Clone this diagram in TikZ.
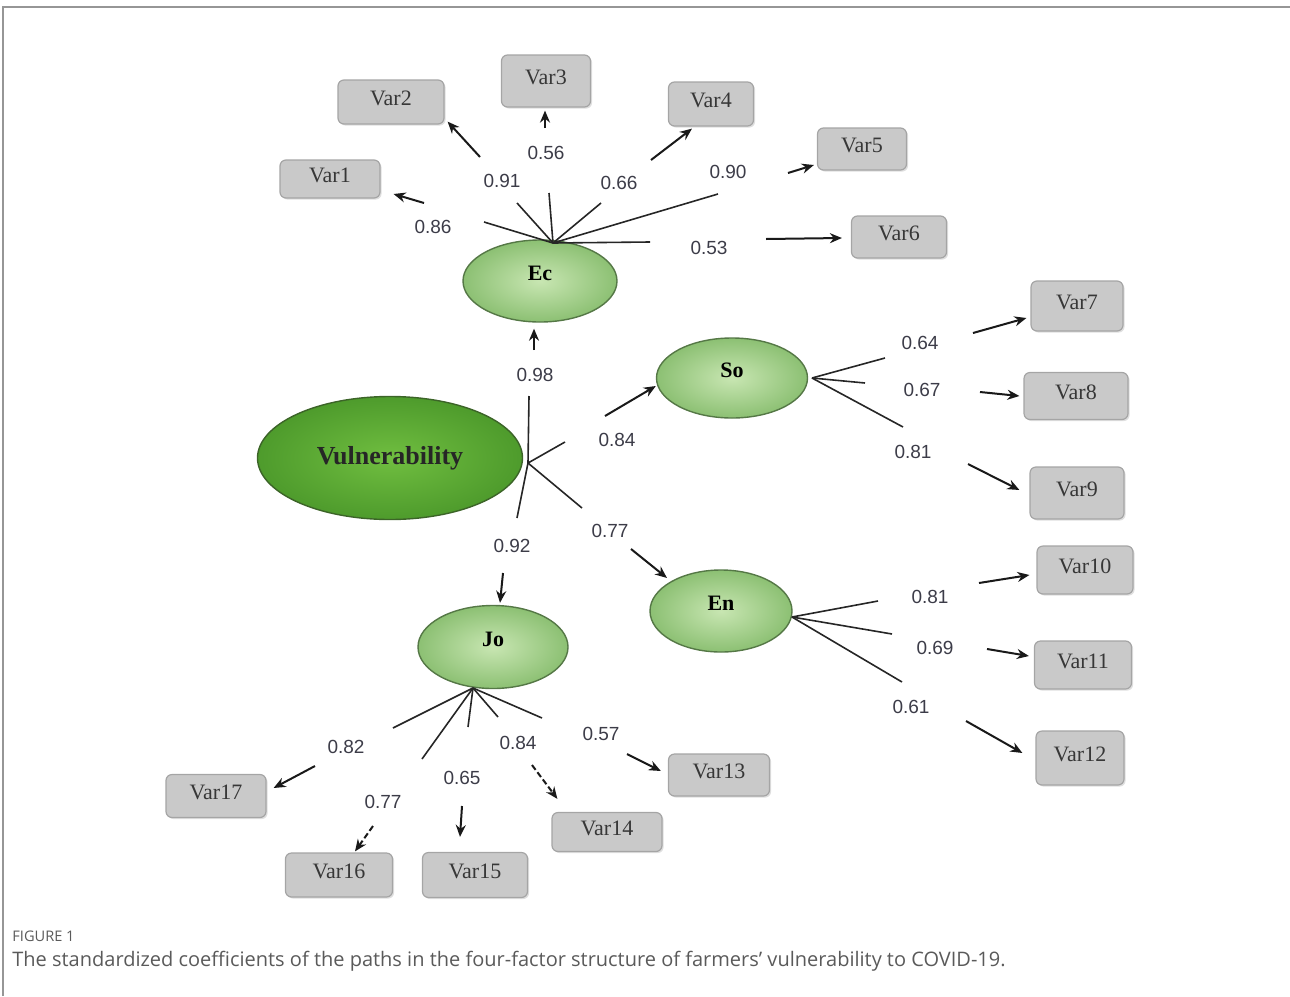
\documentclass[tikz,border=0pt]{standalone}
\usepackage{fontspec}
\setmainfont{Liberation Serif}
\newfontfamily\numfont{Liberation Sans}
\newfontfamily\capfont{Open Sans}
\usetikzlibrary{arrows.meta,shadows,shapes.geometric}
\definecolor{boxfill}{RGB}{201,201,201}
\definecolor{boxdraw}{RGB}{165,165,165}
\definecolor{vartext}{RGB}{55,55,55}
\definecolor{latin}{RGB}{200,230,178}
\definecolor{latout}{RGB}{140,192,115}
\definecolor{latdraw}{RGB}{85,120,70}
\definecolor{vulin}{RGB}{112,190,64}
\definecolor{vulout}{RGB}{78,155,44}
\definecolor{vuldraw}{RGB}{60,100,40}
\definecolor{coeftext}{RGB}{60,60,72}
\definecolor{captext}{RGB}{90,90,90}
\definecolor{framec}{RGB}{150,150,150}
\begin{document}
\begin{tikzpicture}[x=0.5pt,y=-0.5pt,
  varbox/.style={draw=boxdraw, fill=boxfill, rounded corners=3pt, line width=0.6pt,
    font=\fontsize{11}{12}\selectfont, text=vartext, inner sep=0pt, text depth=4pt,
    drop shadow={shadow xshift=0.8pt, shadow yshift=-0.8pt, opacity=0.25}},
  lat/.style={ellipse, draw=latdraw, line width=0.7pt, inner color=latin, outer color=latout,
    font=\bfseries\fontsize{11}{12}\selectfont, inner sep=0pt, text depth=8pt},
  vul/.style={ellipse, draw=vuldraw, line width=0.7pt, inner color=vulin, outer color=vulout,
    font=\bfseries\fontsize{13}{15}\selectfont, text=black!85, inner sep=0pt},
  fan/.style={line width=0.8pt, black!85},
  arr/.style={line width=1pt, black!90, -{Stealth[length=6pt,width=5pt]}},
  darr/.style={arr, dash pattern=on 3pt off 1.5pt},
  coef/.style={font=\numfont\fontsize{9.5}{11}\selectfont, text=coeftext, inner sep=1pt}]
\useasboundingbox (0,0) rectangle (1290,996);
% frame
\draw[framec, line width=0.6pt] (3,996) -- (3,7) -- (1290,7);

% latent variables
\node[vul, minimum width=132.5pt, minimum height=61.5pt] (vul) at (390,458) {Vulnerability};
\node[lat, minimum width=77pt, minimum height=41pt] (ec) at (540,281) {Ec};
\node[lat, minimum width=75.5pt, minimum height=40pt] (so) at (732,378) {So};
\node[lat, minimum width=71pt, minimum height=41pt] (en) at (721,611) {En};
\node[lat, minimum width=75pt, minimum height=41.5pt] (jo) at (493,647) {Jo};

% indicator boxes
\node[varbox, minimum width=50pt, minimum height=19pt] (v1) at (330,179) {Var1};
\node[varbox, minimum width=53pt, minimum height=22pt] (v2) at (391,102) {Var2};
\node[varbox, minimum width=44.5pt, minimum height=26pt] (v3) at (546,81) {Var3};
\node[varbox, minimum width=42.5pt, minimum height=22pt] (v4) at (711,104) {Var4};
\node[varbox, minimum width=44.5pt, minimum height=21pt] (v5) at (862,149) {Var5};
\node[varbox, minimum width=47.5pt, minimum height=21pt] (v6) at (899,237) {Var6};
\node[varbox, minimum width=46pt, minimum height=25pt] (v7) at (1077,306) {Var7};
\node[varbox, minimum width=52pt, minimum height=23.5pt] (v8) at (1076,396) {Var8};
\node[varbox, minimum width=47pt, minimum height=26pt] (v9) at (1077,493) {Var9};
\node[varbox, minimum width=48pt, minimum height=24pt] (v10) at (1085,570) {Var10};
\node[varbox, minimum width=48.5pt, minimum height=24pt] (v11) at (1083,665) {Var11};
\node[varbox, minimum width=44pt, minimum height=27pt] (v12) at (1080,758) {Var12};
\node[varbox, minimum width=50.5pt, minimum height=21pt] (v13) at (719,775) {Var13};
\node[varbox, minimum width=55pt, minimum height=19.5pt] (v14) at (607,832) {Var14};
\node[varbox, minimum width=52.5pt, minimum height=22.5pt] (v15) at (475,875) {Var15};
\node[varbox, minimum width=53.5pt, minimum height=22pt] (v16) at (339,875) {Var16};
\node[varbox, minimum width=50pt, minimum height=21.5pt] (v17) at (216,796) {Var17};

% hubs
\coordinate (echub) at (553,243);
\coordinate (vhub) at (528,463);
\coordinate (sohub) at (812,378);
\coordinate (enhub) at (792,617);
\coordinate (johub) at (473,688);

% ---- Ec paths
\coordinate (a1) at (484,222); \coordinate (b1) at (424,203);
\coordinate (a2) at (517,203); \coordinate (b2) at (480,157);
\coordinate (a3) at (549,193); \coordinate (b3) at (545,128);
\coordinate (a4) at (601,203); \coordinate (b4) at (651,160);
\coordinate (a5) at (718,194); \coordinate (b5) at (788,173);
\coordinate (a6) at (650,242); \coordinate (b6) at (766,239);
\draw[fan] (echub) -- (a1); \draw[fan] (echub) -- (a2); \draw[fan] (echub) -- (a3);
\draw[fan] (echub) -- (a4); \draw[fan] (echub) -- (a5); \draw[fan] (echub) -- (a6);
\node[coef] (l1) at (433,227) {0.86};
\node[coef] (l2) at (502,181) {0.91};
\node[coef] (l3) at (546,153) {0.56};
\node[coef] (l4) at (619,183) {0.66};
\node[coef] (l5) at (728,172) {0.90};
\node[coef] (l6) at (709,248) {0.53};
\draw[arr] (b1) -- ([shift={(13,15)}]v1.east);
\draw[arr] (b2) -- ([shift={(3,-3)}]v2.south east);
\draw[arr] (b3) -- ([shift={(-1,3)}]v3.south);
\draw[arr] (b4) -- ([shift={(-19,2)}]v4.south);
\draw[arr] (b5) -- ([shift={(-3,16)}]v5.west);
\draw[arr] (b6) -- ([shift={(-9,1)}]v6.west);

% ---- Vulnerability paths
\coordinate (ae) at (529,396); \coordinate (be) at (534,350);
\coordinate (as) at (565,442); \coordinate (bs) at (605,416);
\coordinate (an) at (582,508); \coordinate (bn) at (631,549);
\coordinate (aj) at (517,518); \coordinate (bj) at (503,573);
\draw[fan] (vhub) -- (ae); \draw[fan] (vhub) -- (as);
\draw[fan] (vhub) -- (an); \draw[fan] (vhub) -- (aj);
\node[coef] (le) at (535,375) {0.98};
\node[coef] (ls) at (617,440) {0.84};
\node[coef] (ln) at (610,531) {0.77};
\node[coef] (lj) at (512,546) {0.92};
\draw[arr] (be) -- ([shift={(-6,6)}]ec.south);
\draw[arr] (bs) -- ([shift={(0,8)}]so.west);
\draw[arr] (bn) -- ([shift={(-54,-33)}]en.center);
\draw[arr] (bj) -- ([shift={(7,-2)}]jo.north);

% ---- So paths
\coordinate (a7) at (885,358); \coordinate (b7) at (973,333);
\coordinate (a8) at (865,383); \coordinate (b8) at (980,392);
\coordinate (a9) at (903,427); \coordinate (b9) at (968,464);
\draw[fan] (sohub) -- (a7); \draw[fan] (sohub) -- (a8); \draw[fan] (sohub) -- (a9);
\node[coef] (l7) at (920,343) {0.64};
\node[coef] (l8) at (922,390) {0.67};
\node[coef] (l9) at (913,452) {0.81};
\draw[arr] (b7) -- ([shift={(-4,12)}]v7.west);
\draw[arr] (b8) -- ([shift={(-4,0)}]v8.west);
\draw[arr] (b9) -- ([shift={(-10,-3)}]v9.west);

% ---- En paths
\coordinate (a10) at (878,601); \coordinate (b10) at (979,583);
\coordinate (a11) at (892,634); \coordinate (b11) at (987,649);
\coordinate (a12) at (902,682); \coordinate (b12) at (966,721);
\draw[fan] (enhub) -- (a10); \draw[fan] (enhub) -- (a11); \draw[fan] (enhub) -- (a12);
\node[coef] (l10) at (930,597) {0.81};
\node[coef] (l11) at (935,648) {0.69};
\node[coef] (l12) at (911,707) {0.61};
\draw[arr] (b10) -- ([shift={(-7,5)}]v10.west);
\draw[arr] (b11) -- ([shift={(-5,-9)}]v11.west);
\draw[arr] (b12) -- ([shift={(-13,-5)}]v12.west);

% ---- Jo paths
\coordinate (a17) at (393,728); \coordinate (b17) at (315,766);
\coordinate (a16) at (422,759); \coordinate (b16) at (373,826);
\coordinate (a15) at (468,727); \coordinate (b15) at (462,806);
\coordinate (a14) at (498,717); \coordinate (b14) at (532,765);
\coordinate (a13) at (542,718); \coordinate (b13) at (627,754);
\draw[fan] (johub) -- (a17); \draw[fan] (johub) -- (a16); \draw[fan] (johub) -- (a15);
\draw[fan] (johub) -- (a14); \draw[fan] (johub) -- (a13);
\node[coef] (l17) at (346,747) {0.82};
\node[coef] (l16) at (383,802) {0.77};
\node[coef] (l15) at (462,778) {0.65};
\node[coef] (l14) at (518,743) {0.84};
\node[coef] (l13) at (601,734) {0.57};
\draw[arr] (b17) -- ([shift={(7,-8)}]v17.east);
\draw[darr] (b16) -- ([shift={(16,-1)}]v16.north);
\draw[arr] (b15) -- ([shift={(-15,-15)}]v15.north);
\draw[darr] (b14) -- ([shift={(6,-13)}]v14.north west);
\draw[arr] (b13) -- ([shift={(-7,-4)}]v13.west);

% caption
\node[anchor=west, inner sep=0pt, font=\capfont\fontsize{7.3}{8}\selectfont, text=captext] (fig) at (12,936) {FIGURE 1};
\node[anchor=west, inner sep=0pt, font=\capfont\fontsize{10}{11}\selectfont, text=captext] (cap) at (12,961) {The standardized coefficients of the paths in the four-factor structure of farmers’ vulnerability to COVID-19.};
\end{tikzpicture}
\end{document}
